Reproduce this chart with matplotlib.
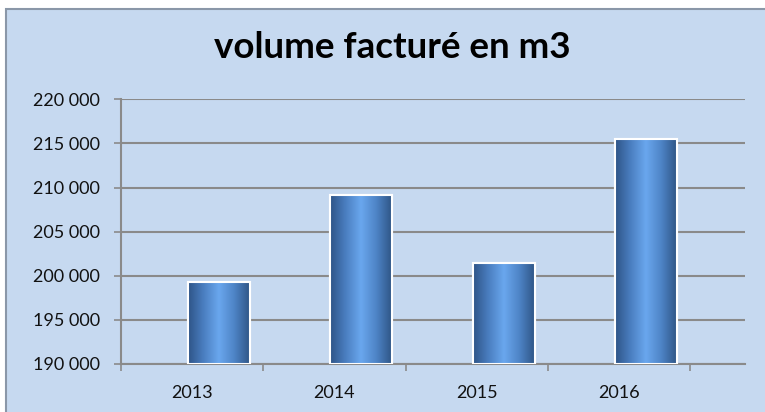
import matplotlib
matplotlib.use("Agg")
import matplotlib.pyplot as plt
import numpy as np
from matplotlib.patches import Rectangle
from matplotlib.colors import LinearSegmentedColormap

years = ["2013", "2014", "2015", "2016"]
volumes = [199300, 209100, 201500, 215500]
yticks = [190000, 195000, 200000, 205000, 210000, 215000, 220000]
title = "volume facturé en m3"

plt.rcParams['font.family'] = ['Lato', 'DejaVu Sans']

W, H = 765, 412
fig = plt.figure(figsize=(W / 100, H / 100), dpi=100)
fig.patch.set_facecolor('white')

bg = Rectangle((6 / W, -0.01), 1.05, (H - 9) / H + 0.01, transform=fig.transFigure,
               facecolor='#C6D9F0', edgecolor='#8A97A8', linewidth=1.5, zorder=-5)
fig.patches.append(bg)

ax = fig.add_axes([121 / W, (H - 364) / H, (745 - 121) / W, (364 - 99.3) / H])
ax.set_facecolor('none')
ax.set_zorder(2)

cat_w = (690 - 121) / 4.0
axis_px = 745 - 121
xmin = -0.5
xmax = xmin + axis_px / cat_w
offset = 27 / cat_w
bw = 62 / cat_w

x = np.arange(len(years))
bars = ax.bar(x + offset, volumes, width=bw, bottom=0, color='#4F81BD',
              edgecolor='white', linewidth=1.5, zorder=3)

cmap = LinearSegmentedColormap.from_list('cyl', ['#2E5487', '#4A7EC0', '#6AA7EE', '#4E84C6', '#2F5586'])
grad = np.linspace(0, 1, 256).reshape(1, -1)
for b in bars:
    x0, w = b.get_x(), b.get_width()
    y1 = b.get_height()
    im = ax.imshow(grad, cmap=cmap, aspect='auto', extent=(x0, x0 + w, yticks[0], y1),
                   zorder=3.5, interpolation='bicubic')
    im.set_clip_path(b)
    ax.add_patch(Rectangle((x0, yticks[0]), w, y1 - yticks[0], fill=False,
                           edgecolor='white', linewidth=1.5, zorder=4))

ax.set_xlim(xmin, xmax)
ax.set_ylim(yticks[0], yticks[-1])
ax.set_yticks(yticks)
ax.set_yticklabels([f"{v:,}".replace(",", " ") for v in yticks], fontsize=13, color='#111111')
ax.yaxis.grid(True, color='#8A8A8A', linewidth=1.5, zorder=1)
ax.set_axisbelow(True)
ax.tick_params(axis='y', length=5, width=1.2, color='#8A8A8A', pad=10)

ax.set_xticks(x)
ax.set_xticklabels(years, fontsize=13, color='#111111')
ax.set_xticks(np.arange(len(years) + 1) - 0.5, minor=True)
ax.tick_params(axis='x', which='major', length=0, pad=15)
ax.tick_params(axis='x', which='minor', length=5, width=1.2, color='#8A8A8A')

for s in ['top', 'right']:
    ax.spines[s].set_visible(False)
for s in ['left', 'bottom']:
    ax.spines[s].set_color('#8A8A8A')
    ax.spines[s].set_linewidth(1.5)

fig.text(392 / W, 1 - 47 / H, title, ha='center', va='center', fontsize=26.5,
         fontweight='bold', color='black', zorder=3)

fig.savefig('out.png', dpi=100)
